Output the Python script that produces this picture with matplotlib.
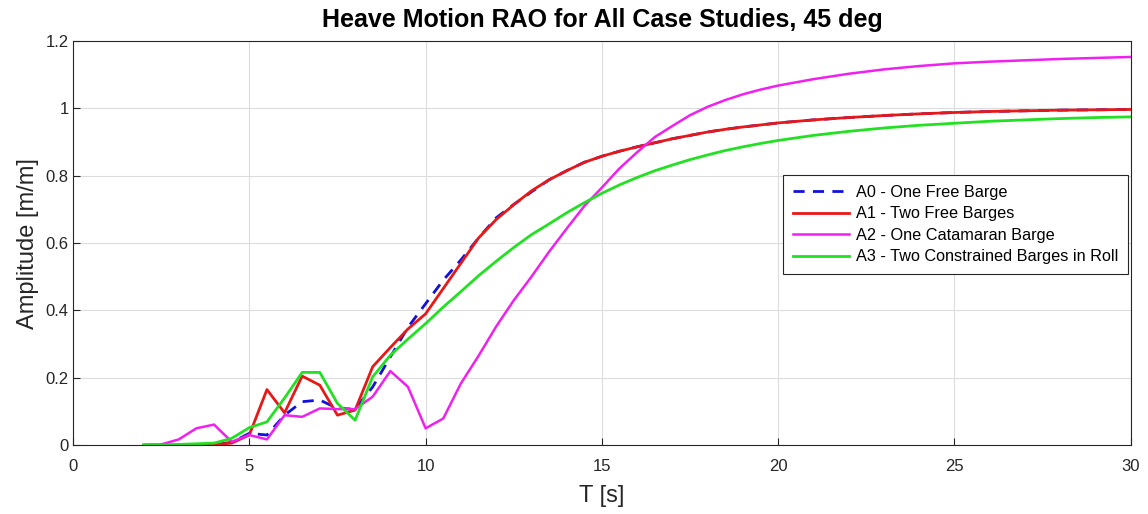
import numpy as np
import matplotlib
matplotlib.use('Agg')
import matplotlib.pyplot as plt

plt.rcParams['font.family'] = ['Liberation Sans', 'DejaVu Sans']

# Periodes (s) i amplituds llegides de la figura
T = [2.0, 2.5, 3.0, 3.5, 4.0, 4.5, 5.0, 5.5, 6.0, 6.5, 7.0, 7.5, 8.0, 8.5, 9.0,
     9.5, 10.0, 10.5, 11.0, 11.5, 12.0, 12.5, 13.0, 13.5, 14.0, 14.5, 15.0,
     15.5, 16.0, 16.5, 17.0, 17.5, 18.0, 18.5, 19.0, 19.5, 20.0,
     21.0, 22.0, 23.0, 24.0, 25.0, 26.0, 27.0, 28.0, 29.0, 30.0]

a0 = [0.0, 0.0, 0.0, 0.0, 0.002, 0.008, 0.035, 0.03, 0.089, 0.129, 0.134, 0.109, 0.107, 0.173, 0.262,
      0.35, 0.42, 0.49, 0.55, 0.615, 0.675, 0.715, 0.752, 0.788, 0.815, 0.84, 0.858,
      0.873, 0.886, 0.898, 0.91, 0.92, 0.93, 0.938, 0.945, 0.951, 0.957,
      0.966, 0.973, 0.979, 0.984, 0.988, 0.991, 0.993, 0.995, 0.996, 0.997]
a1 = [0.0, 0.0, 0.0, 0.0, 0.002, 0.006, 0.03, 0.165, 0.096, 0.205, 0.178, 0.089, 0.104, 0.233, 0.29,
      0.345, 0.39, 0.465, 0.54, 0.615, 0.67, 0.714, 0.755, 0.788, 0.815, 0.84, 0.858,
      0.873, 0.886, 0.898, 0.91, 0.92, 0.93, 0.938, 0.945, 0.951, 0.957,
      0.966, 0.973, 0.979, 0.984, 0.988, 0.991, 0.993, 0.995, 0.996, 0.997]
a2 = [0.0, 0.002, 0.017, 0.05, 0.061, 0.01, 0.03, 0.017, 0.089, 0.084, 0.109, 0.107, 0.107, 0.144, 0.22,
      0.173, 0.05, 0.079, 0.183, 0.265, 0.352, 0.43, 0.5, 0.574, 0.643, 0.71, 0.765,
      0.822, 0.87, 0.915, 0.948, 0.98, 1.005, 1.025, 1.042, 1.056, 1.068,
      1.087, 1.103, 1.116, 1.126, 1.134, 1.139, 1.143, 1.147, 1.150, 1.153]
a3 = [0.0, 0.0, 0.002, 0.004, 0.006, 0.02, 0.052, 0.069, 0.14, 0.216, 0.216, 0.124, 0.074, 0.203, 0.267,
      0.315, 0.361, 0.41, 0.456, 0.503, 0.546, 0.587, 0.625, 0.657, 0.69, 0.72, 0.748,
      0.773, 0.795, 0.815, 0.832, 0.848, 0.862, 0.875, 0.886, 0.896, 0.905,
      0.92, 0.932, 0.942, 0.95, 0.956, 0.962, 0.966, 0.97, 0.973, 0.975]

labels = ['A0 - One Free Barge', 'A1 - Two Free Barges',
          'A2 - One Catamaran Barge', 'A3 - Two Constrained Barges in Roll']

fig = plt.figure(figsize=(11.48, 5.14), dpi=100)
ax = fig.add_axes([0.0636, 0.134, 0.9214, 0.786])

ax.plot(T, a0, color='#1010e0', linestyle=(0, (4, 3)), linewidth=2.0, label=labels[0])
ax.plot(T, a1, color='#e81818', linewidth=2.0, label=labels[1])
ax.plot(T, a2, color='#f020f0', linewidth=1.8, label=labels[2])
ax.plot(T, a3, color='#22e022', linewidth=2.0, label=labels[3])

ax.set_xlim(0, 30)
ax.set_ylim(0, 1.2)
ax.set_xticks(np.arange(0, 31, 5))
ax.set_yticks([0, 0.2, 0.4, 0.6, 0.8, 1.0, 1.2])
ax.set_yticklabels(['0', '0.2', '0.4', '0.6', '0.8', '1', '1.2'])
ax.grid(True, color='#dcdcdc', linewidth=0.8)
ax.set_axisbelow(True)
ax.tick_params(direction='in', colors='#262626', labelsize=12, length=5)
ax.tick_params(axis='x', pad=10)
ax.tick_params(axis='y', pad=3)
for sp in ax.spines.values():
    sp.set_color('#262626')

ax.set_xlabel('T [s]', fontsize=17, color='#262626', labelpad=8)
ax.set_ylabel('Amplitude [m/m]', fontsize=17, color='#262626', labelpad=5)
ax.set_title('Heave Motion RAO for All Case Studies, 45 deg', fontsize=18,
             fontweight='bold', pad=10)

leg = ax.legend(loc='upper left', bbox_to_anchor=(0.671, 0.668), borderaxespad=0,
                fontsize=11.7, frameon=True, fancybox=False, framealpha=1,
                edgecolor='#262626', handlelength=3.5, borderpad=0.6,
                labelspacing=0.4, handletextpad=0.4)
leg.get_frame().set_linewidth(0.8)

plt.savefig('out.png', dpi=100)
